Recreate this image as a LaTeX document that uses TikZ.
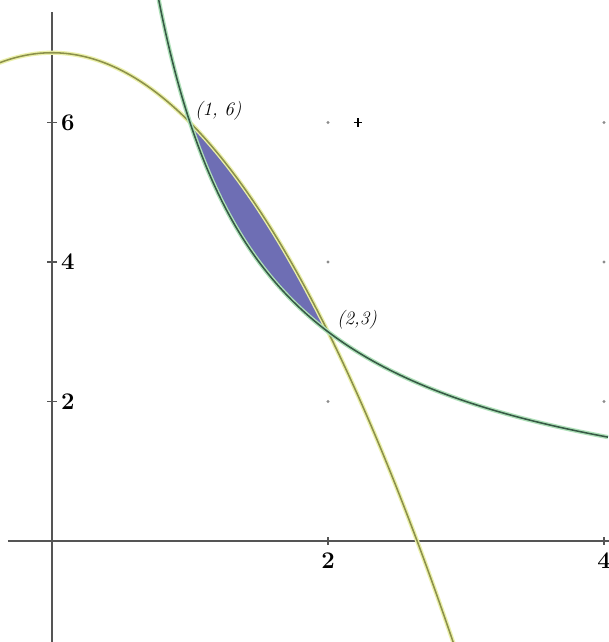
\documentclass[tikz,border=0pt]{standalone}
\usepackage{fontspec}
\definecolor{regfill}{RGB}{110,110,180}
\definecolor{regedge}{RGB}{45,45,90}
\definecolor{parcol}{RGB}{140,145,75}
\definecolor{parhalo}{RGB}{235,240,170}
\definecolor{hypcol}{RGB}{55,90,70}
\definecolor{hyphalo}{RGB}{175,225,185}
\definecolor{axiscol}{RGB}{85,85,85}
\begin{document}
\begin{tikzpicture}[x=3.45cm,y=1.74375cm,
  axisline/.style={draw=axiscol,line width=1.5pt},
  tickmark/.style={draw=axiscol,line width=1.2pt},
  numlab/.style={font=\fontsize{17}{20}\selectfont\bfseries,inner sep=0pt},
  ptlab/.style={font=\fontsize{13.5}{16}\selectfont\itshape,inner sep=0pt},
  griddot/.style={circle,fill=black!45,inner sep=0pt,minimum size=2.2pt}]
\useasboundingbox (-0.37681,-1.44803) rectangle (4.02899,7.75627);
\fill[white] (-0.37681,-1.44803) rectangle (4.02899,7.75627);
% grid dots
\foreach \gx in {2,4}{\foreach \gy in {2,4,6}{\node[griddot] (g\gx\gy) at (\gx,\gy) {};}}
% plus mark
\coordinate (pl) at (2.217,6);
\draw[black,line width=1.1pt] ([xshift=-0.11cm]pl) -- ([xshift=0.11cm]pl);
\draw[black,line width=1.1pt] ([yshift=-0.11cm]pl) -- ([yshift=0.11cm]pl);
% shaded region
\filldraw[fill=regfill,draw=regedge,line width=0.8pt]
  plot[domain=1:2,samples=80] (\x,{7-\x*\x}) --
  plot[domain=2:1,samples=80] (\x,{6/\x}) -- cycle;
% axes
\coordinate (xl) at (-0.319,0);
\coordinate (xr) at (4.05,0);
\coordinate (yb) at (0,-1.46);
\coordinate (yt) at (0,7.584);
\draw[axisline] (xl) -- (xr);
\draw[axisline] (yb) -- (yt);
% y ticks and labels
\foreach \t in {2,4,6}{
  \coordinate (yt\t) at (0,\t);
  \draw[tickmark] ([xshift=-0.12cm]yt\t) -- ([xshift=0.12cm]yt\t);
  \node[numlab,anchor=west] (yl\t) at ([xshift=0.22cm]yt\t) {\t};
}
% x ticks and labels
\foreach \t in {2,4}{
  \coordinate (xt\t) at (\t,0);
  \draw[tickmark] ([yshift=-0.1cm]xt\t) -- ([yshift=0.1cm]xt\t);
  \node[numlab,anchor=north] (xlab\t) at ([yshift=-0.28cm]xt\t) {\t};
}
% curves
\draw[parhalo,line width=3pt] plot[domain=-0.38:2.91,samples=160] (\x,{7-\x*\x});
\draw[parcol,line width=1.1pt] plot[domain=-0.38:2.91,samples=160] (\x,{7-\x*\x});
\draw[hyphalo,line width=3pt] plot[domain=0.7735:4.03,samples=200] (\x,{6/\x});
\draw[hypcol,line width=1.1pt] plot[domain=0.7735:4.03,samples=200] (\x,{6/\x});
% point labels
\coordinate (p16) at (1,6);
\coordinate (p23) at (2,3);
\node[ptlab,anchor=south west] (l16) at ([xshift=0.12cm,yshift=0.05cm]p16) {(1, 6)};
\node[ptlab,anchor=west] (l23) at ([xshift=0.22cm,yshift=0.3cm]p23) {(2,3)};
\end{tikzpicture}
\end{document}
